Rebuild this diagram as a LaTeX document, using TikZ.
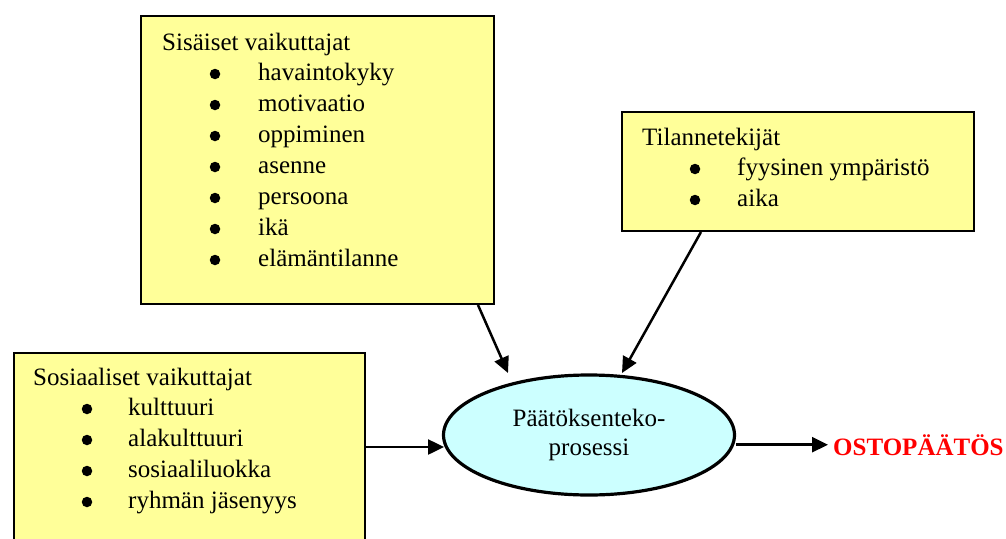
\documentclass[tikz,border=0pt]{standalone}
\usepackage{fontspec}
\setmainfont{Liberation Serif}
\usetikzlibrary{shapes.geometric,arrows.meta,calc}
\definecolor{boxyellow}{HTML}{FFFF99}
\definecolor{procblue}{HTML}{CCFFFF}
\definecolor{resultred}{HTML}{FF0000}

\begin{document}
\begin{tikzpicture}[x=1pt,y=-1pt,
  factorbox/.style={draw=black, line width=2pt, fill=boxyellow, rectangle,
                    inner sep=0pt, anchor=north west},
  txt/.style={anchor=base west, inner sep=0pt, font=\fontsize{25}{31}\selectfont},
  dotmark/.style={fill=black, circle, inner sep=0pt, minimum size=10.5pt},
  arr/.style={-{Triangle[length=16pt,width=15pt]}, line width=2.5pt}]

\useasboundingbox (0,0) rectangle (1006,538);
\clip (0,0) rectangle (1006,538);

% factor boxes
\node[factorbox, minimum width=353pt, minimum height=288pt] (sis) at (140,15) {};
\node[factorbox, minimum width=351pt, minimum height=210pt] (sos) at (13,352) {};
\node[factorbox, minimum width=352pt, minimum height=119pt] (tila) at (621,111) {};

% internal factors
\node[txt] (sis-title) at (162,50) {Sisäiset vaikuttajat};
\foreach \t [count=\i] in {havaintokyky, motivaatio, oppiminen, asenne, persoona, ikä, elämäntilanne} {
  \node[dotmark] (sis-dot-\i) at (215,43+31*\i) {};
  \node[txt] (sis-item-\i) at (258,49+31*\i) {\t};
}

% social factors
\node[txt] (sos-title) at (33,385) {Sosiaaliset vaikuttajat};
\foreach \t [count=\i] in {kulttuuri, alakulttuuri, sosiaaliluokka, ryhmän jäsenyys} {
  \node[dotmark] (sos-dot-\i) at (87,378+31*\i) {};
  \node[txt] (sos-item-\i) at (128,384+31*\i) {\t};
}

% situational factors
\node[txt] (tila-title) at (642,145) {Tilannetekijät};
\foreach \t [count=\i] in {fyysinen ympäristö, aika} {
  \node[dotmark] (tila-dot-\i) at (695,138+31*\i) {};
  \node[txt] (tila-item-\i) at (737,144+31*\i) {\t};
}

% decision process
\node[ellipse, draw=black, line width=3.2pt, fill=procblue,
      minimum width=291pt, minimum height=120pt, inner sep=0pt, align=center,
      font=\fontsize{25}{29}\selectfont] (proc) at (589,435) {Päätöksenteko-\\prosessi};

% outcome
\node[anchor=base west, inner sep=0pt, text=resultred,
      font=\bfseries\fontsize{25}{30}\selectfont] (result) at (833,455) {OSTOPÄÄTÖS};

% connectors
\coordinate (tipA) at (508,373);
\coordinate (tipB) at (622,373);
\coordinate (tipC) at (444,447);
\draw[arr] ([xshift=160.5pt]sis.south) -- (tipA);
\draw[arr] ([xshift=-97pt]tila.south) -- (tipB);
\draw[arr] (sos.east |- tipC) -- (tipC);
\draw[arr] (proc.east |- result.west) -- ([xshift=-5pt]result.west);
\end{tikzpicture}
\end{document}
